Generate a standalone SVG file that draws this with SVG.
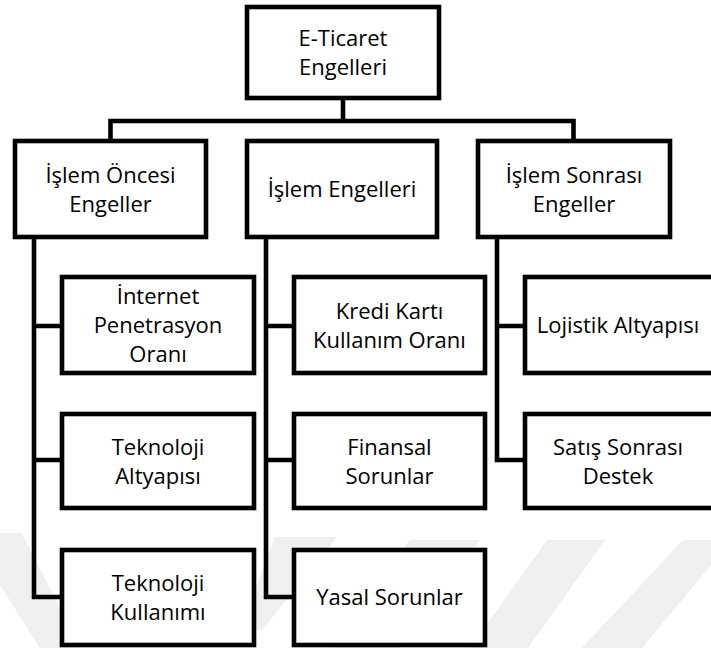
<svg xmlns="http://www.w3.org/2000/svg" width="711" height="648" viewBox="0 0 711 648">
  <style>
    .box { fill: #ffffff; stroke: #000000; stroke-width: 4.6; }
    .wire { fill: none; stroke: #000000; stroke-width: 4.6; stroke-linejoin: miter; stroke-linecap: butt; }
    .mark { fill: #efefef; stroke: none; }
    text { font-family: "Open Sans", "Noto Sans", "Liberation Sans", sans-serif; font-size: 22px; fill: #000000; text-anchor: middle; }
  </style>

  <!-- faint background stripes -->
  <g id="backdrop">
    <polygon class="mark" points="0,533 22,533 80,648 40,648 0,585"/>
    <polygon class="mark" points="275,537 337,537 262,630 240,630"/>
    <polygon class="mark" points="410,540 480,540 400,648 330,648"/>
    <polygon class="mark" points="547,540 605,540 528,648 470,648"/>
    <polygon class="mark" points="683,540 711,540 711,565 642,648 582,648"/>
  </g>

  <!-- connectors -->
  <g id="connectors">
    <path class="wire" d="M343,98 V121"/>
    <path class="wire" d="M110.5,141 V121 H573.5 V141"/>
    <path class="wire" d="M34,237 V597 H62 M34,326 H62 M34,460 H62"/>
    <path class="wire" d="M266,237 V597 H294 M266,326 H294 M266,460 H294"/>
    <path class="wire" d="M497,237 V460 H525 M497,326 H525"/>
  </g>

  <g id="root">
    <rect class="box" x="247" y="7" width="192" height="91"/>
    <text x="343" y="46">E-Ticaret</text>
    <text x="343" y="75">Engelleri</text>
  </g>

  <g id="islem-oncesi">
    <rect class="box" x="15" y="141" width="191" height="96"/>
    <text x="110.5" y="182.5">İşlem Öncesi</text>
    <text x="110.5" y="211.5">Engeller</text>
  </g>

  <g id="islem-engelleri">
    <rect class="box" x="247" y="141" width="190" height="96"/>
    <text x="342" y="197">İşlem Engelleri</text>
  </g>

  <g id="islem-sonrasi">
    <rect class="box" x="478" y="141" width="192" height="96"/>
    <text x="574" y="182.5">İşlem Sonrası</text>
    <text x="574" y="211.5">Engeller</text>
  </g>

  <g id="internet-penetrasyon">
    <rect class="box" x="62" y="277" width="192" height="96"/>
    <text x="158" y="304">İnternet</text>
    <text x="158" y="333">Penetrasyon</text>
    <text x="158" y="362">Oranı</text>
  </g>

  <g id="teknoloji-altyapisi">
    <rect class="box" x="62" y="414" width="192" height="94"/>
    <text x="158" y="454.5">Teknoloji</text>
    <text x="158" y="483.5">Altyapısı</text>
  </g>

  <g id="teknoloji-kullanimi">
    <rect class="box" x="62" y="550" width="192" height="95"/>
    <text x="158" y="590.5">Teknoloji</text>
    <text x="158" y="619.5">Kullanımı</text>
  </g>

  <g id="kredi-karti">
    <rect class="box" x="294" y="277" width="191" height="96"/>
    <text x="389.5" y="318.5">Kredi Kartı</text>
    <text x="389.5" y="347.5">Kullanım Oranı</text>
  </g>

  <g id="finansal-sorunlar">
    <rect class="box" x="294" y="414" width="191" height="94"/>
    <text x="389.5" y="454.5">Finansal</text>
    <text x="389.5" y="483.5">Sorunlar</text>
  </g>

  <g id="yasal-sorunlar">
    <rect class="box" x="294" y="550" width="191" height="95"/>
    <text x="389.5" y="605">Yasal Sorunlar</text>
  </g>

  <g id="lojistik-altyapisi">
    <rect class="box" x="525" y="277" width="192" height="96"/>
    <text x="618" y="333">Lojistik Altyapısı</text>
  </g>

  <g id="satis-sonrasi">
    <rect class="box" x="525" y="414" width="192" height="94"/>
    <text x="618" y="454.5">Satış Sonrası</text>
    <text x="618" y="483.5">Destek</text>
  </g>
</svg>
